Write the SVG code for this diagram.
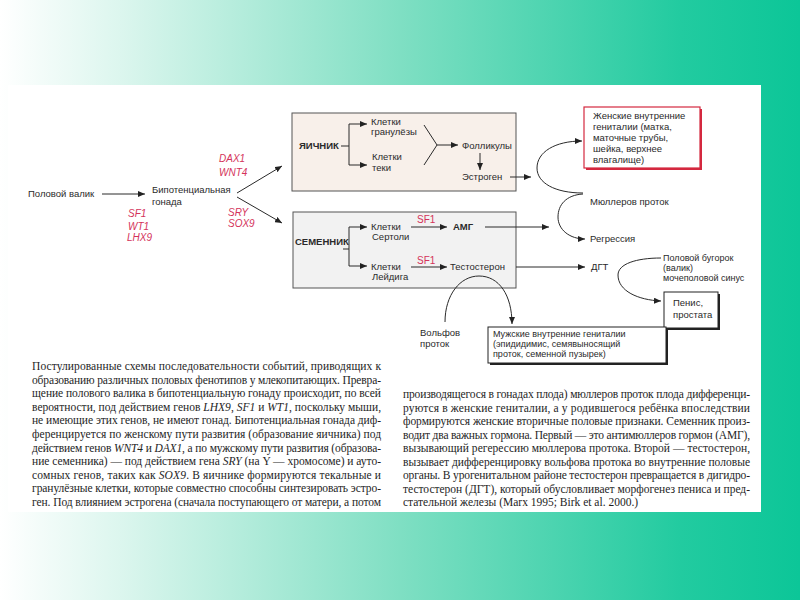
<svg xmlns="http://www.w3.org/2000/svg" width="800" height="600" viewBox="0 0 800 600">
<defs>
<linearGradient id="bg" x1="0" y1="0" x2="1" y2="0">
<stop offset="0" stop-color="#ffffff"/>
<stop offset="0.15" stop-color="#dcf6ee"/>
<stop offset="0.5" stop-color="#7fdfc3"/>
<stop offset="0.85" stop-color="#22cba0"/>
<stop offset="1" stop-color="#0cc698"/>
</linearGradient>
<marker id="ah" markerWidth="7" markerHeight="6" refX="7" refY="3" orient="auto" markerUnits="userSpaceOnUse">
<path d="M0,0 L7,3 L0,6 Z" fill="#222"/>
</marker>
<style>
.t{font-family:"Liberation Sans",Arial,sans-serif;font-size:9.5px;fill:#2a2a2a}
.s{font-size:9px}
.b{font-weight:bold}
.r{font-family:"Liberation Sans",Arial,sans-serif;font-size:10px;fill:#d4335b;font-style:italic}
.ru{font-family:"Liberation Sans",Arial,sans-serif;font-size:10px;fill:#d4335b}
.ln{fill:none;stroke:#2a2a2a;stroke-width:1}
.ar{fill:none;stroke:#2a2a2a;stroke-width:1;marker-end:url(#ah)}
.p{font-family:"Liberation Serif","Times New Roman",serif;font-size:11.5px;fill:#1e1e1e}
.i{font-style:italic}
</style>
</defs>
<rect x="0" y="0" width="800" height="600" fill="url(#bg)"/>
<rect x="8" y="85" width="753" height="427" fill="#ffffff"/>

<g id="polovoy-valik"><text class="t" x="28" y="197">Половой валик</text></g>
<g id="bipot-gonada"><text class="t" x="152" y="193">Бипотенциальная</text><text class="t" x="152" y="205">гонада</text></g>
<g id="genes-sf1"><text class="r" x="128" y="217">SF1</text><text class="r" x="128" y="230">WT1</text><text class="r" x="127" y="241">LHX9</text></g>
<g id="genes-dax1"><text class="r" x="219" y="162">DAX1</text><text class="r" x="219" y="176">WNT4</text></g>
<g id="genes-sry"><text class="r" x="228" y="216">SRY</text><text class="r" x="228" y="227">SOX9</text></g>

<g id="ovary">
<rect x="292" y="113" width="224" height="78" fill="#f8f0ea" stroke="#555" stroke-width="1"/>
<text class="t b" x="299" y="149">ЯИЧНИК</text>
<text class="t" x="371" y="125">Клетки</text><text class="t" x="371" y="135">гранулёзы</text>
<text class="t" x="372" y="160">Клетки</text><text class="t" x="372" y="171">теки</text>
<text class="t" x="462" y="149">Фолликулы</text>
<text class="t" x="462" y="180">Эстроген</text>
</g>

<g id="testis">
<rect x="293" y="212" width="223" height="76" fill="#f2f2f2" stroke="#555" stroke-width="1"/>
<text class="t b" x="295" y="245">СЕМЕННИК</text>
<text class="t" x="371" y="230">Клетки</text><text class="t" x="372" y="240">Сертоли</text>
<text class="t" x="371" y="270">Клетки</text><text class="t" x="372" y="280">Лейдига</text>
<text class="ru" x="417" y="223">SF1</text>
<text class="ru" x="417" y="264">SF1</text>
<text class="t b" x="453" y="230">АМГ</text>
<text class="t" x="450" y="270">Тестостерон</text>
</g>

<g id="female-genitalia">
<rect x="586" y="109" width="116" height="61" fill="#d4283f"/>
<rect x="584" y="107" width="116" height="61" fill="#ffffff" stroke="#d4283f" stroke-width="1.2"/>
<text class="t" x="593" y="119">Женские внутренние</text>
<text class="t" x="593" y="130">гениталии (матка,</text>
<text class="t" x="593" y="141">маточные трубы,</text>
<text class="t" x="593" y="152">шейка, верхнее</text>
<text class="t" x="593" y="163">влагалище)</text>
</g>
<g id="muller"><text class="t" x="590" y="205">Мюллеров проток</text></g>
<g id="regression"><text class="t" x="590" y="242">Регрессия</text></g>
<g id="dgt"><text class="t" x="591" y="270">ДГТ</text></g>
<g id="tubercle"><text class="t s" x="663" y="261">Половой бугорок</text><text class="t s" x="663" y="271">(валик)</text><text class="t s" x="663" y="281">мочеполовой синус</text></g>
<g id="penis">
<rect x="666" y="294" width="54" height="36" fill="#222"/>
<rect x="664" y="292" width="54" height="36" fill="#ffffff" stroke="#222" stroke-width="1"/>
<text class="t" x="673" y="306">Пенис,</text><text class="t" x="673" y="318">простата</text>
</g>
<g id="wolff"><text class="t" x="420" y="336">Вольфов</text><text class="t" x="420" y="347">проток</text></g>
<g id="male-genitalia">
<rect x="490" y="329" width="178" height="36" fill="#222"/>
<rect x="488" y="327" width="178" height="36" fill="#ffffff" stroke="#222" stroke-width="1"/>
<text class="t s" x="493" y="337">Мужские внутренние гениталии</text>
<text class="t s" x="493" y="347">(эпидидимис, семявыносящий</text>
<text class="t s" x="493" y="357">проток, семенной пузырек)</text>
</g>

<g id="connectors">
<line class="ar" x1="102" y1="194" x2="145" y2="194"/>
<line class="ar" x1="237" y1="193" x2="282" y2="166"/>
<line class="ar" x1="237" y1="197" x2="282" y2="223"/>
<polyline class="ln" points="341,146 349,146"/>
<line class="ln" x1="349" y1="124" x2="349" y2="165"/>
<line class="ar" x1="349" y1="124" x2="367" y2="124"/>
<line class="ar" x1="349" y1="165" x2="367" y2="165"/>
<polyline class="ln" points="424,125 437,145 424,165"/>
<line class="ar" x1="437" y1="145" x2="458" y2="145"/>
<line class="ar" x1="480" y1="153" x2="480" y2="170"/>
<line class="ar" x1="510" y1="177" x2="531" y2="177"/>
<line class="ln" x1="343" y1="249" x2="349" y2="249"/>
<line class="ln" x1="349" y1="227" x2="349" y2="266"/>
<line class="ar" x1="349" y1="227" x2="367" y2="227"/>
<line class="ar" x1="349" y1="266" x2="367" y2="266"/>
<line class="ar" x1="411" y1="227" x2="447" y2="227"/>
<line class="ar" x1="411" y1="267" x2="447" y2="267"/>
<line class="ar" x1="485" y1="227" x2="549" y2="227"/>
<line class="ar" x1="516" y1="267" x2="585" y2="267"/>
<path class="ar" d="M583,193 C555,193 537,183 537,168 C537,152 555,141 582,141"/>
<path class="ar" d="M583,194 C566,195 558,205 558,217 C558,230 570,239 585,239"/>
<path class="ar" d="M445,322 C445,295 460,276 479,276 C499,276 512,295 512,324"/>
<path class="ar" d="M661,258 C636,258 618,264 618,275 C618,291 638,300 661,301"/>
</g>

<g id="caption">
<text class="p" x="32" y="370" textLength="349" lengthAdjust="spacing">Постулированные схемы последовательности событий, приводящих к</text>
<text class="p" x="32" y="383.6" textLength="349" lengthAdjust="spacing">образованию различных половых фенотипов у млекопитающих. Превра-</text>
<text class="p" x="32" y="397.2" textLength="349" lengthAdjust="spacing">щение полового валика в бипотенциальную гонаду происходит, по всей</text>
<text class="p" x="32" y="410.8" textLength="349" lengthAdjust="spacing">вероятности, под действием генов <tspan class="i">LHX9</tspan>, <tspan class="i">SF1</tspan> и <tspan class="i">WT1</tspan>, поскольку мыши,</text>
<text class="p" x="32" y="424.4" textLength="349" lengthAdjust="spacing">не имеющие этих генов, не имеют гонад. Бипотенциальная гонада диф-</text>
<text class="p" x="32" y="438" textLength="349" lengthAdjust="spacing">ференцируется по женскому пути развития (образование яичника) под</text>
<text class="p" x="32" y="451.6" textLength="349" lengthAdjust="spacing">действием генов <tspan class="i">WNT4</tspan> и <tspan class="i">DAX1</tspan>, а по мужскому пути развития (образова-</text>
<text class="p" x="32" y="465.2" textLength="349" lengthAdjust="spacing">ние семенника) — под действием гена <tspan class="i">SRY</tspan> (на Y — хромосоме) и ауто-</text>
<text class="p" x="32" y="478.8" textLength="349" lengthAdjust="spacing">сомных генов, таких как <tspan class="i">SOX9</tspan>. В яичнике формируются текальные и</text>
<text class="p" x="32" y="492.4" textLength="349" lengthAdjust="spacing">гранулёзные клетки, которые совместно способны синтезировать эстро-</text>
<text class="p" x="32" y="506" textLength="349" lengthAdjust="spacing">ген. Под влиянием эстрогена (сначала поступающего от матери, а потом</text>
<text class="p" x="403" y="398" textLength="347" lengthAdjust="spacing">производящегося в гонадах плода) мюллеров проток плода дифференци-</text>
<text class="p" x="403" y="411.5" textLength="347" lengthAdjust="spacing">руются в женские гениталии, а у родившегося ребёнка впоследствии</text>
<text class="p" x="403" y="425" textLength="347" lengthAdjust="spacing">формируются женские вторичные половые признаки. Семенник произ-</text>
<text class="p" x="403" y="438.5" textLength="347" lengthAdjust="spacing">водит два важных гормона. Первый — это антимюллеров гормон (АМГ),</text>
<text class="p" x="403" y="452" textLength="347" lengthAdjust="spacing">вызывающий регерессию мюллерова протока. Второй — тестостерон,</text>
<text class="p" x="403" y="465.5" textLength="347" lengthAdjust="spacing">вызывает дифференцировку вольфова протока во внутренние половые</text>
<text class="p" x="403" y="479" textLength="347" lengthAdjust="spacing">органы. В урогенитальном районе тестостерон превращается в дигидро-</text>
<text class="p" x="403" y="492.5" textLength="347" lengthAdjust="spacing">тестостерон (ДГТ), который обусловливает морфогенез пениса и пред-</text>
<text class="p" x="403" y="506">стательной железы (Marx 1995; Birk et al. 2000.)</text>
</g>
</svg>
